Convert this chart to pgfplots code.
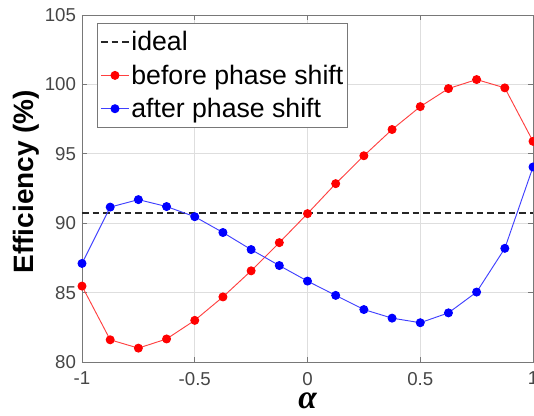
\documentclass[border=0pt]{standalone}
\usepackage{pgfplots}
\pgfplotsset{compat=1.18}
\usepackage{fontspec}
\setmainfont{Liberation Sans}
\newfontfamily\serifgreek{Liberation Serif}
\definecolor{tickgray}{RGB}{70,70,70}
\definecolor{gridgray}{RGB}{222,222,222}
\definecolor{axgray}{RGB}{120,120,120}
\begin{document}
\begin{tikzpicture}
\begin{axis}[
  scale only axis,
  width=338.25pt, height=260.25pt,
  xmin=-1, xmax=1, ymin=80, ymax=105,
  xtick={-1,-0.5,0,0.5,1},
  xticklabels={-1,-0.5,0,0.5,1},
  ytick={80,85,90,95,100,105},
  grid=major,
  major grid style={gridgray, line width=0.6pt},
  axis line style={axgray, line width=0.7pt},
  tick align=inside,
  major tick length=4pt,
  tick style={axgray, line width=0.6pt},
  /pgf/number format/assume math mode=true,
  ticklabel style={font=\fontsize{14}{16}\selectfont, text=tickgray},
  xticklabel style={yshift=-4pt},
  yticklabel style={xshift=-1pt},
  ylabel={\bfseries Efficiency (\%)},
  ylabel style={at={(axis description cs:-0.124,0.52)}, anchor=center, font=\fontsize{21}{24}\selectfont},
  xlabel={{\serifgreek\bfseries\itshape α}},
  xlabel style={at={(axis description cs:0.5,-0.113)}, anchor=center, inner sep=0pt, font=\fontsize{25}{26}\selectfont},
  legend style={at={(axis description cs:0.033,0.977)}, anchor=north west,
    draw=axgray, line width=0.6pt, fill=white, font=\fontsize{20}{24}\selectfont,
    inner xsep=2pt, inner ysep=1.5pt, row sep=0pt,
    nodes={inner xsep=1pt, inner ysep=0.5pt, text height=18.5pt, text depth=5.5pt}},
  legend cell align=left,
  legend image code/.code={%
    \draw[mark repeat=2,mark phase=2,#1] plot coordinates {(0cm,0cm) (0.37cm,0cm) (0.74cm,0cm)};},
]
\addplot[black!85, line width=1.5pt, dash pattern=on 5pt off 3pt] coordinates {(-1,90.7) (1,90.7)};
\addlegendentry{ideal}
\addplot[red!75, line width=0.7pt, mark=*, mark size=3pt, mark options={red, draw=red, fill=red}] coordinates {
(-1,85.47) (-0.875,81.6) (-0.75,81.0) (-0.625,81.66) (-0.5,83.0) (-0.375,84.69)
(-0.25,86.57) (-0.125,88.6) (0,90.69) (0.125,92.85) (0.25,94.86) (0.375,96.75)
(0.5,98.4) (0.625,99.7) (0.75,100.35) (0.875,99.75) (1,95.9)};
\addlegendentry{before phase shift}
\addplot[blue!75, line width=0.7pt, mark=*, mark size=3pt, mark options={blue, draw=blue, fill=blue}] coordinates {
(-1,87.1) (-0.875,91.16) (-0.75,91.7) (-0.625,91.2) (-0.5,90.47) (-0.375,89.33)
(-0.25,88.1) (-0.125,86.95) (0,85.83) (0.125,84.8) (0.25,83.78) (0.375,83.16)
(0.5,82.83) (0.625,83.54) (0.75,85.04) (0.875,88.19) (1,94.05)};
\addlegendentry{after phase shift}
\end{axis}
\pgfresetboundingbox
\useasboundingbox (-61.5pt,-39.75pt) rectangle (339pt,271.5pt);
\end{tikzpicture}
\end{document}
